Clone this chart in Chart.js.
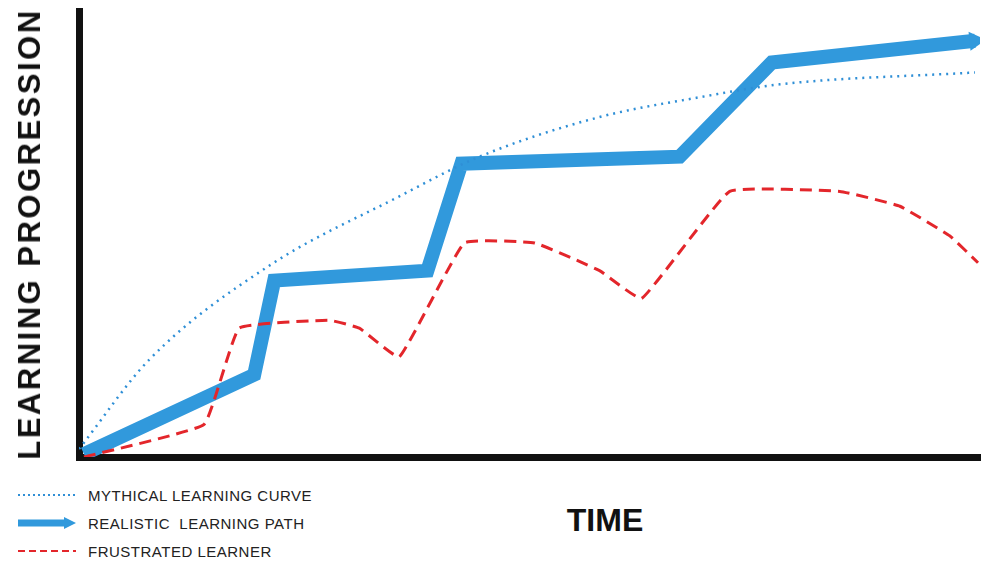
<!DOCTYPE html>
<html>
<head>
<meta charset="utf-8">
<script src="https://cdn.jsdelivr.net/npm/chart.js@4.4.0/dist/chart.umd.min.js"></script>
<style>
  body { margin: 0; background: #fff; font-family: 'Liberation Sans', Arial, sans-serif; }
  #wrap { position: relative; width: 999px; height: 561px; }
  #box { position: absolute; left: 0; top: 0; width: 999px; height: 468px; }
  .ytitle { position: absolute; left: 30px; top: 234px; transform: translate(-50%, -50%) rotate(-90deg);
            font-weight: bold; font-size: 31px; letter-spacing: 2.5px; white-space: nowrap; color: #111; }
  .xtitle { position: absolute; left: 605px; top: 520px; transform: translate(-50%, -50%);
            font-weight: bold; font-size: 32px; color: #111; }
  .legend { position: absolute; left: 18px; top: 481px; font-size: 15px; color: #222; letter-spacing: 0.5px; }
  .legend div { height: 28px; display: flex; align-items: center; }
  .legend svg { margin-right: 12px; }
</style>
</head>
<body>
<div id="wrap">
  <div id="box"><canvas id="chart"></canvas></div>
  <div class="ytitle">LEARNING PROGRESSION</div>
  <div class="xtitle">TIME</div>
  <div class="legend">
    <div><svg width="58" height="10"><line x1="0" y1="5" x2="58" y2="5" stroke="#2f8fd6" stroke-width="2" stroke-dasharray="2,3"/></svg>MYTHICAL LEARNING CURVE</div>
    <div><svg width="58" height="14"><line x1="0" y1="7" x2="48" y2="7" stroke="#3199dc" stroke-width="7"/><polygon points="46,1 58,7 46,13" fill="#3199dc"/></svg>REALISTIC &nbsp;LEARNING PATH</div>
    <div><svg width="58" height="10"><line x1="0" y1="5" x2="58" y2="5" stroke="#e3262b" stroke-width="2" stroke-dasharray="7,4"/></svg>FRUSTRATED LEARNER</div>
  </div>
</div>
<script>
// Data (x: time units, y: progression units)
const mythicalX = [0, 70, 190, 320, 400, 520, 620, 700, 895];
const mythicalY = [8, 98, 193, 263, 303, 343, 363, 376, 388];

const realisticX = [5, 175, 195, 348, 382, 600, 692, 895];
const realisticY = [3, 83, 178, 188, 296, 303, 398, 420];

const frustratedX = [5, 125, 160, 250, 280, 320, 385, 455, 520, 562, 650, 760, 820, 870, 898];
const frustratedY = [0, 33, 130, 138, 130, 101, 216, 216, 188, 160, 268, 268, 253, 223, 196];

const toPoints = (xs, ys) => xs.map((x, i) => ({ x: x, y: ys[i] }));

function init() {
    const ctx = document.getElementById('chart').getContext('2d');
    const lastIdx = realisticX.length - 1;

    new Chart(ctx, {
        type: 'line',
        data: {
            datasets: [
                {
                    label: 'Realistic Learning Path',
                    data: toPoints(realisticX, realisticY),
                    borderColor: '#3199dc',
                    backgroundColor: '#3199dc',
                    borderWidth: 14,
                    borderJoinStyle: 'miter',
                    tension: 0,
                    pointStyle: 'triangle',
                    pointRotation: 84,
                    pointRadius: realisticX.map((_, i) => i === lastIdx ? 11 : 0),
                    pointBorderWidth: 0,
                    order: 2
                },
                {
                    label: 'Mythical Learning Curve',
                    data: toPoints(mythicalX, mythicalY),
                    borderColor: '#2f8fd6',
                    borderWidth: 2.5,
                    borderDash: [2, 5],
                    cubicInterpolationMode: 'monotone',
                    pointRadius: 0,
                    order: 1
                },
                {
                    label: 'Frustrated Learner',
                    data: toPoints(frustratedX, frustratedY),
                    borderColor: '#e3262b',
                    borderWidth: 3,
                    borderDash: [12, 7],
                    tension: 0.1,
                    pointRadius: 0,
                    order: 0
                }
            ]
        },
        options: {
            responsive: true,
            maintainAspectRatio: false,
            animation: false,
            layout: { padding: { left: 71, top: 6, right: 19, bottom: 0 } },
            plugins: { legend: { display: false }, tooltip: { enabled: false } },
            scales: {
                x: {
                    type: 'linear', min: 0, max: 900,
                    grid: { display: false },
                    ticks: { display: false },
                    border: { color: '#111', width: 7 }
                },
                y: {
                    min: 0, max: 450,
                    grid: { display: false },
                    ticks: { display: false },
                    border: { color: '#111', width: 7 }
                }
            }
        }
    });
}

if (document.readyState === 'loading') {
    document.addEventListener('DOMContentLoaded', init);
} else {
    init();
}
</script>
</body>
</html>
